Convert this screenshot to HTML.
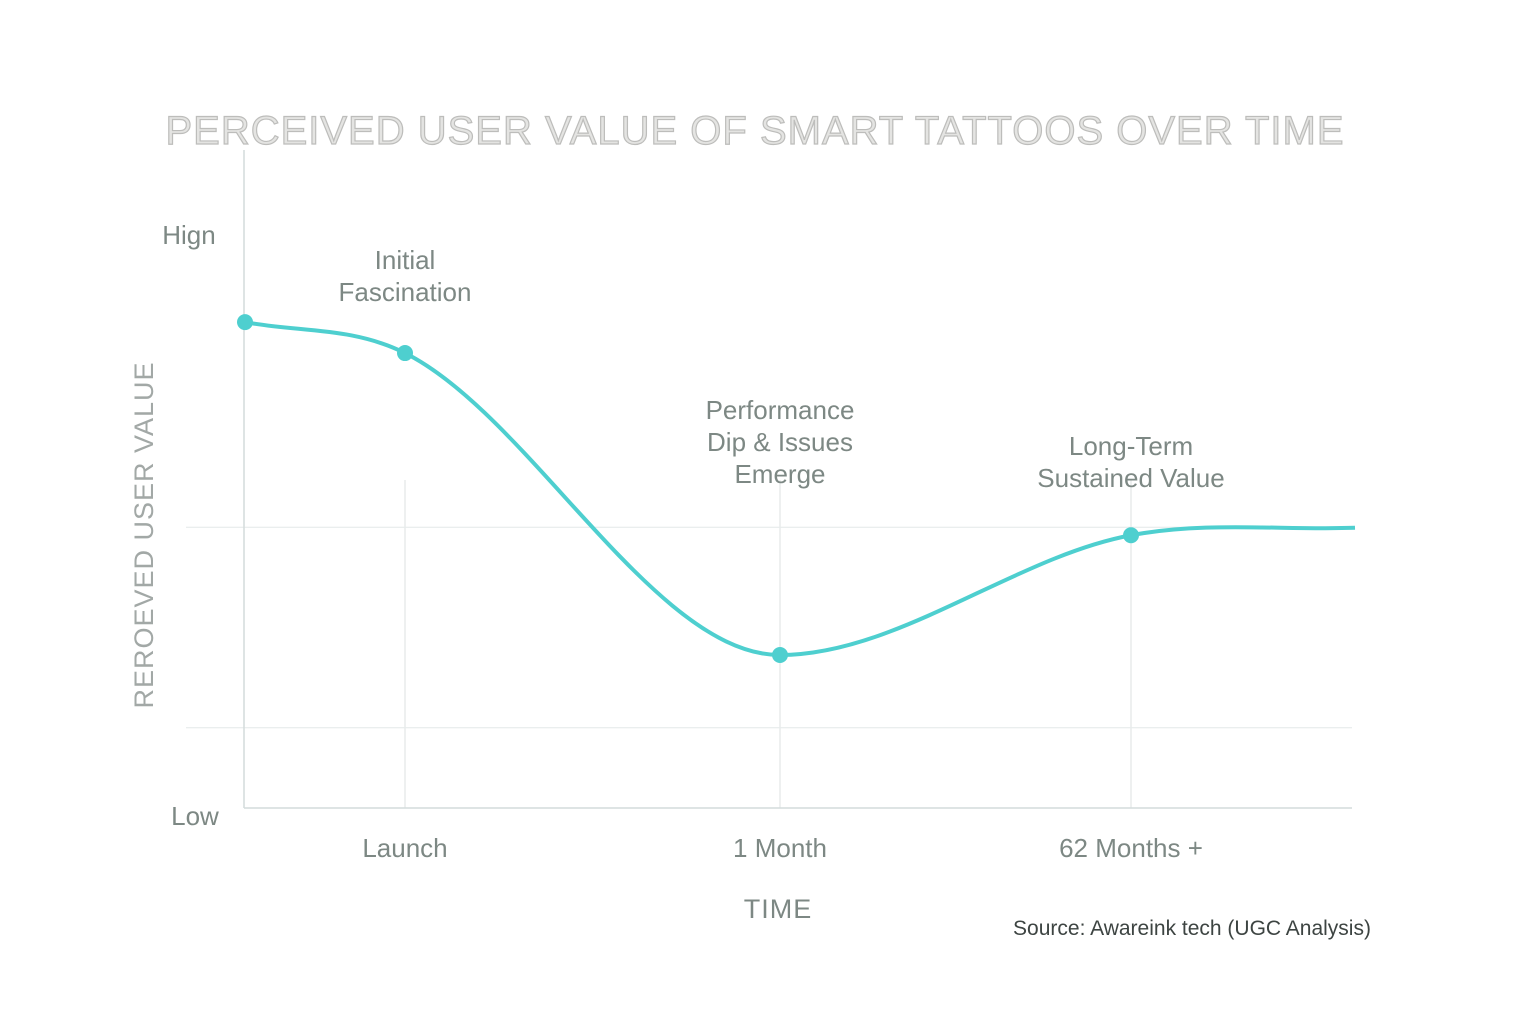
<!DOCTYPE html>
<html><head><meta charset="utf-8"><style>
html,body{margin:0;padding:0;background:#fff;width:1536px;height:1024px;overflow:hidden}
svg text{font-family:"Liberation Sans","DejaVu Sans",sans-serif}
</style></head><body>
<svg width="1536" height="1024" viewBox="0 0 1536 1024">
<text x="755" y="144" text-anchor="middle" font-size="40" fill="#e4e4e2" stroke="#bdbdbb" stroke-width="1.2" letter-spacing="1">PERCEIVED USER VALUE OF SMART TATTOOS OVER TIME</text>
<g id="grid"></g>
<line x1="244" y1="150" x2="244" y2="808" stroke="#d4dcdc" stroke-width="1.5"/>
<line x1="244" y1="808" x2="1352" y2="808" stroke="#d4dcdc" stroke-width="1.5"/>
<text x="189" y="244" text-anchor="middle" font-size="26" fill="#7d8884">Hign</text>
<text x="195" y="825" text-anchor="middle" font-size="26" fill="#7d8884">Low</text>
<text transform="translate(153,535) rotate(-90)" text-anchor="middle" font-size="27" fill="#a2a8a6" letter-spacing="1">REROEVED USER VALUE</text>
<g id="xticks"></g>
<text x="778" y="918" text-anchor="middle" font-size="27" fill="#7d8884" letter-spacing="1">TIME</text>
<g id="annos"></g>
<path id="curve" fill="none" stroke="#4ecfcf" stroke-width="4"/>
<g id="dots"></g>
<text x="1192" y="935" text-anchor="middle" font-size="21" fill="#3d4442">Source: Awareink tech (UGC Analysis)</text>
</svg>
<script>
const times=[0,16,53.5,88.6,111];
const values=[84.8,79.4,26.7,47.6,48.9];
const dotIdx=[0,1,2,3];
const tickTimes=[16,53.5,88.6];
const tickLabels=["Launch","1 Month","62 Months +"];
const annoTimes=[16,53.5,88.6];
const annoLines=[["Initial","Fascination"],["Performance","Dip & Issues","Emerge"],["Long-Term","Sustained Value"]];
const annoTop=[269,419,455];
const gridValues=[49,14];
const NS="http://www.w3.org/2000/svg";
const xs=t=>245+t*10, ys=v=>808-v*5.73;
function mk(tag,at,parent){const e=document.createElementNS(NS,tag);for(const k in at)e.setAttribute(k,at[k]);parent.appendChild(e);return e;}
const grid=document.getElementById('grid');
gridValues.forEach(v=>{const l=mk('line',{x1:186,x2:1352,y1:ys(v),y2:ys(v),stroke:'#e4e8e8','stroke-width':1},grid);

});
tickTimes.forEach(t=>{const l=mk('line',{x1:xs(t),x2:xs(t),y1:480,y2:808,stroke:'#e8ecec','stroke-width':1.5},grid);

});
const xt=document.getElementById('xticks');
tickTimes.forEach((t,i)=>{const e=mk('text',{x:xs(t),y:857,'text-anchor':'middle','font-size':26,fill:'#7d8884'},xt);e.textContent=tickLabels[i];

});
const an=document.getElementById('annos');
annoTimes.forEach((t,i)=>{annoLines[i].forEach((s,j)=>{const e=mk('text',{x:xs(t),y:annoTop[i]+j*32,'text-anchor':'middle','font-size':26,fill:'#7d8884'},an);e.textContent=s;

});});
// monotone cubic
const P=times.map((t,i)=>[xs(t),ys(values[i])]);const n=P.length;
const d=[],m=[];for(let i=0;i<n-1;i++)d.push((P[i+1][1]-P[i][1])/(P[i+1][0]-P[i][0]));
m[0]=d[0];m[n-1]=d[n-2];for(let i=1;i<n-1;i++)m[i]=d[i-1]*d[i]<=0?0:(d[i-1]+d[i])/2;
let path=`M${P[0][0]},${P[0][1]}`;
for(let i=0;i<n-1;i++){const h=(P[i+1][0]-P[i][0])/3;path+=` C${P[i][0]+h},${P[i][1]+m[i]*h} ${P[i+1][0]-h},${P[i+1][1]-m[i+1]*h} ${P[i+1][0]},${P[i+1][1]}`;}
document.getElementById('curve').setAttribute('d',path);
const dots=document.getElementById('dots');
dotIdx.forEach(i=>{const c=mk('circle',{cx:P[i][0],cy:P[i][1],r:8,fill:'#4ecfcf'},dots);

});
</script>
</body></html>
